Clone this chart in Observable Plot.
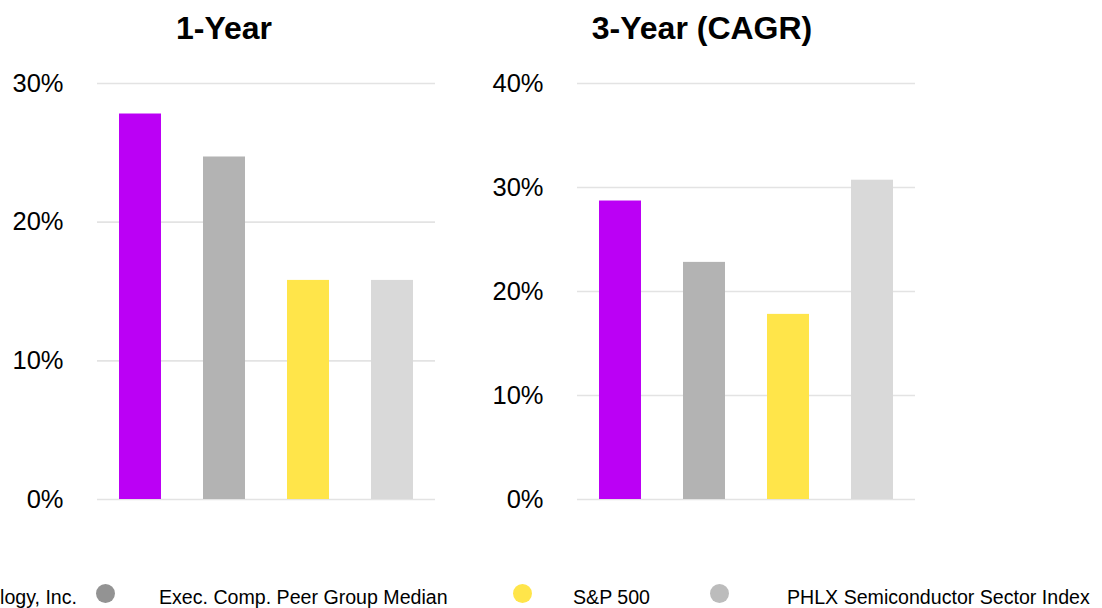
<!DOCTYPE html>
<html>
<head>
<meta charset="utf-8">
<script src="https://cdn.jsdelivr.net/npm/d3@7"></script>
<script src="https://cdn.jsdelivr.net/npm/@observablehq/plot@0.6"></script>
<style>
  html, body { margin: 0; padding: 0; background: #fff; }
  #root { position: relative; width: 1102px; height: 608px; overflow: hidden; font-family: "Liberation Sans", Arial, sans-serif; color: #000; }
  .title { position: absolute; top: 12px; font-weight: bold; font-size: 32px; line-height: 32px; text-align: center; white-space: nowrap; }
  .panel { position: absolute; top: 55px; }
  .leg-text { position: absolute; top: 587px; font-size: 19.6px; line-height: 20px; white-space: nowrap; }
  .leg-dot { position: absolute; width: 19px; height: 19px; border-radius: 50%; }
</style>
</head>
<body>
<div id="root"></div>
<script>
// ---- data ----
const categories = ["Marvell Technology, Inc.", "Exec. Comp. Peer Group Median", "S&P 500", "PHLX Semiconductor Sector Index"];
const oneYear = [27.8, 24.7, 15.8, 15.8];
const threeYear = [28.7, 22.8, 17.8, 30.7];
const panelTitles = ["1-Year", "3-Year (CAGR)"];
const oneYearTicks = [0, 10, 20, 30];
const threeYearTicks = [0, 10, 20, 30, 40];
const barColors = ["#bb00f5", "#b3b3b3", "#ffe54a", "#d9d9d9"];
const legendColors = ["#bb00f5", "#939393", "#ffe54a", "#bcbcbc"];

const root = document.getElementById("root");

function panel(values, ticks, left, title, titleCenter) {
  const data = categories.map((c, i) => ({cat: c, value: values[i]}));
  const chart = Plot.plot({
    width: 480,
    height: 466,
    marginLeft: 97,
    marginRight: 45,
    marginTop: 28,
    marginBottom: 22,
    style: {fontFamily: "'Liberation Sans', Arial, sans-serif", fontSize: "25.5px", color: "#000", background: "transparent", overflow: "visible"},
    x: {domain: categories, paddingInner: 0.5, paddingOuter: 0.25, axis: null},
    y: {domain: [0, ticks[ticks.length - 1]], ticks: ticks, tickFormat: d => d + "%", tickSize: 0, tickPadding: 34, label: null},
    color: {domain: categories, range: barColors},
    marks: [
      Plot.gridY(ticks, {stroke: "#e3e3e3", strokeOpacity: 1, strokeWidth: 1.6}),
      Plot.barY(data, {x: "cat", y: "value", fill: "cat"})
    ]
  });
  const wrap = document.createElement("div");
  wrap.className = "panel";
  wrap.style.left = left + "px";
  wrap.appendChild(chart);
  root.appendChild(wrap);

  const t = document.createElement("div");
  t.className = "title";
  t.textContent = title;
  t.style.left = (titleCenter - 200) + "px";
  t.style.width = "400px";
  root.appendChild(t);
}

panel(oneYear, oneYearTicks, 0, panelTitles[0], 224);
panel(threeYear, threeYearTicks, 480, panelTitles[1], 702);

// ---- legend ----
const legendDotX = [-155, 105, 522, 719];
const legendTextX = [null, 159, 573, 787];
categories.forEach((c, i) => {
  const dot = document.createElement("div");
  dot.className = "leg-dot";
  dot.style.background = legendColors[i];
  dot.style.left = (legendDotX[i] - 9.5) + "px";
  dot.style.top = (593 - 9.5) + "px";
  root.appendChild(dot);
  const tx = document.createElement("div");
  tx.className = "leg-text";
  tx.textContent = c;
  if (legendTextX[i] === null) {
    tx.style.right = (1102 - 77) + "px";
  } else {
    tx.style.left = legendTextX[i] + "px";
  }
  root.appendChild(tx);
});
</script>
</body>
</html>
